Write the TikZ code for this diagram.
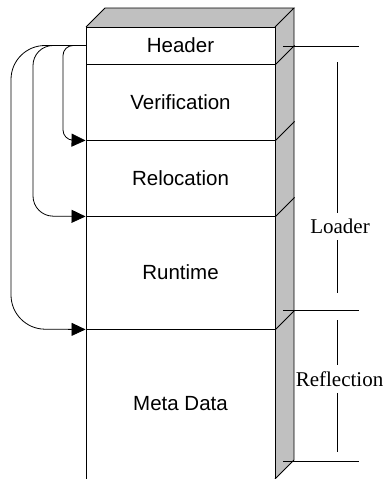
\documentclass[tikz,border=0pt]{standalone}
\usepackage{fontspec}
\setmainfont{Liberation Serif}
\newfontfamily\boxfont{Liberation Sans}
\usetikzlibrary{arrows.meta}
\definecolor{sidegrey}{HTML}{C0C0C0}
\begin{document}
\begin{tikzpicture}[x=1pt,y=-1pt,line width=0.9pt,
  layer/.style={draw,rectangle,minimum width=189pt,inner sep=0pt,
    font=\boxfont\fontsize{20.5}{24}\selectfont},
  call/.style={line width=0.8pt,rounded corners=#1,
    -{Triangle[length=14pt,width=13pt]}},
  dim/.style={line width=0.8pt},
  dimlabel/.style={font=\fontsize{21}{24}\selectfont,fill=white,
    inner xsep=0.5pt,inner ysep=0pt,minimum height=27pt}]
\useasboundingbox (0,0) rectangle (384,479);

% top and side faces of the block
\fill[sidegrey] (86,27) -- (105,8) -- (294,8) -- (275,27) -- cycle;
\fill[sidegrey] (275,27) -- (294,8) -- (294,460) -- (275,479) -- cycle;
\draw (86,27) -- (105,8) -- (294,8) -- (275,27);
\draw (294,8) -- (294,460) -- (275,479);

% front face, one node per layer
\node[layer,minimum height=37pt]  (hdr) at (180.5,45.5)  {Header};
\node[layer,minimum height=76pt]  (ver) at (180.5,102)   {Verification};
\node[layer,minimum height=76pt]  (rel) at (180.5,178)   {Relocation};
\node[layer,minimum height=113pt] (run) at (180.5,272.5) {Runtime};
\node[layer,minimum height=150pt] (meta) at (180.5,404)  {Meta Data};

% layer edges continued over the side face
\foreach \n in {hdr,ver,rel,run}
  \draw (\n.south east) -- ++(19,-19);

% calls from the header into the later layers
\draw[call=10pt] (hdr.west) -| (63,140) -- (ver.south west);
\draw[call=20pt] (hdr.west) -| (33,216) -- (rel.south west);
\draw[call=34pt] (hdr.west) -| (11,329) -- (run.south west);

% extent marks on the right
\coordinate (m1a) at (283,46);  \coordinate (m1b) at (359,46);
\coordinate (m2a) at (283,310); \coordinate (m2b) at (359,310);
\coordinate (m3a) at (283,461); \coordinate (m3b) at (359,461);
\draw[dim] (m1a) -- (m1b);
\draw[dim] (m2a) -- (m2b);
\draw[dim] (m3a) -- (m3b);

\node[dimlabel] (loader) at (340,226.5) {Loader};
\node[dimlabel] (refl) at (339.5,379) {Reflection};
\coordinate (l1) at (337,62);
\coordinate (l4) at (337,293);
\coordinate (r1) at (337,320);
\coordinate (r4) at (337,452);
\draw[dim] (l1) -- (l1 |- loader.north);
\draw[dim] (l4 |- loader.south) -- (l4);
\draw[dim] (r1) -- (r1 |- refl.north);
\draw[dim] (r4 |- refl.south) -- (r4);
\end{tikzpicture}
\end{document}
